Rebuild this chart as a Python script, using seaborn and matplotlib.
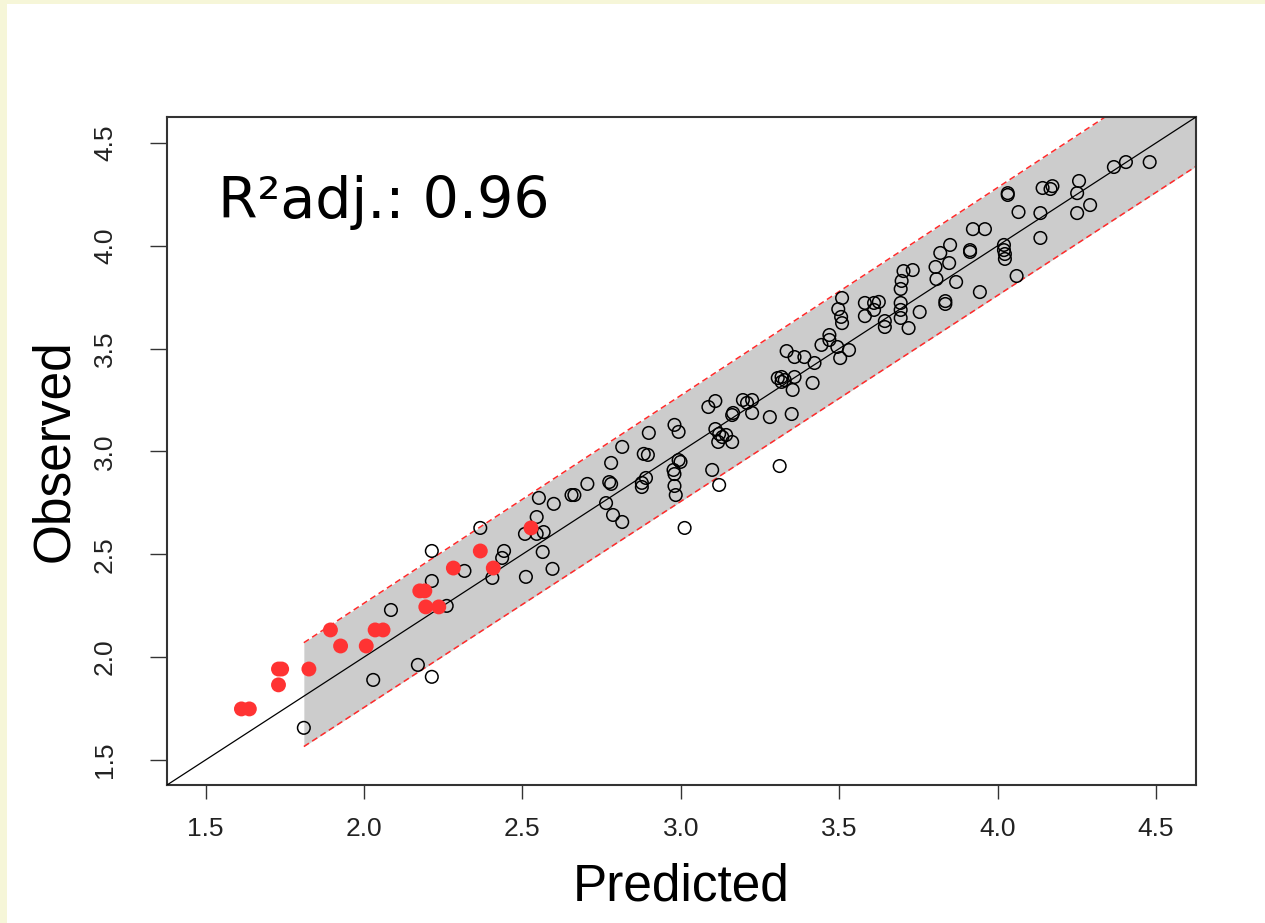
import matplotlib
matplotlib.use("Agg")
import matplotlib.pyplot as plt
import seaborn as sns
import pandas as pd
from matplotlib.patches import Rectangle

# observed vs predicted, open circles
open_pred = [1.810, 2.029, 2.170, 2.214, 2.214, 2.085, 2.214, 2.261, 2.317, 2.367,
             2.405, 2.442, 2.436, 2.511, 2.508, 2.545, 2.567, 2.564, 2.595, 2.545,
             2.552, 2.599, 2.655, 2.664, 2.705, 2.764, 2.774, 2.780, 2.786, 2.815,
             2.780, 2.815, 2.877, 2.877, 2.890, 2.883, 2.896, 2.899, 2.980, 2.993,
             2.977, 2.980, 2.980, 2.984, 2.993, 2.999, 3.012, 3.099, 3.121, 3.087,
             3.109, 3.109, 3.121, 3.131, 3.143, 3.118, 3.162, 3.165, 3.162, 3.196,
             3.209, 3.225, 3.225, 3.312, 3.281, 3.350, 3.306, 3.318, 3.328, 3.359,
             3.353, 3.318, 3.416, 3.334, 3.359, 3.390, 3.422, 3.444, 3.469, 3.469,
             3.494, 3.531, 3.503, 3.509, 3.497, 3.506, 3.509, 3.581, 3.610, 3.625,
             3.610, 3.581, 3.644, 3.644, 3.694, 3.694, 3.694, 3.719, 3.754, 3.694,
             3.697, 3.703, 3.732, 3.804, 3.807, 3.847, 3.819, 3.850, 3.869, 3.835,
             3.835, 3.913, 3.913, 3.922, 3.960, 3.944, 4.020, 4.020, 4.023, 4.023,
             4.060, 4.032, 4.032, 4.066, 4.135, 4.135, 4.142, 4.167, 4.173, 4.251,
             4.251, 4.257, 4.292, 4.367, 4.405, 4.480]
open_obs = [1.656, 1.889, 1.962, 1.904, 2.516, 2.229, 2.370, 2.249, 2.419, 2.628,
            2.385, 2.516, 2.482, 2.390, 2.599, 2.681, 2.608, 2.511, 2.429, 2.599,
            2.774, 2.745, 2.788, 2.788, 2.842, 2.749, 2.851, 2.842, 2.691, 2.657,
            2.944, 3.022, 2.827, 2.847, 2.871, 2.988, 2.983, 3.090, 3.129, 3.095,
            2.910, 2.890, 2.832, 2.788, 2.958, 2.949, 2.628, 2.910, 2.837, 3.216,
            3.245, 3.109, 3.085, 3.070, 3.080, 3.046, 3.046, 3.187, 3.177, 3.250,
            3.236, 3.187, 3.250, 2.929, 3.167, 3.182, 3.357, 3.362, 3.347, 3.362,
            3.299, 3.338, 3.333, 3.488, 3.459, 3.459, 3.430, 3.518, 3.566, 3.542,
            3.508, 3.493, 3.454, 3.746, 3.692, 3.654, 3.624, 3.722, 3.722, 3.727,
            3.688, 3.658, 3.634, 3.605, 3.722, 3.688, 3.649, 3.600, 3.678, 3.790,
            3.829, 3.877, 3.882, 3.897, 3.838, 3.916, 3.965, 4.004, 3.824, 3.731,
            3.717, 3.979, 3.970, 4.081, 4.081, 3.775, 4.004, 3.979, 3.960, 3.936,
            3.853, 4.247, 4.256, 4.164, 4.159, 4.038, 4.281, 4.276, 4.290, 4.159,
            4.256, 4.315, 4.198, 4.383, 4.407, 4.407]

# filled red points
red_pred = [1.613, 1.638, 1.730, 1.740, 1.730, 1.826, 1.894, 1.926, 2.007, 2.035,
            2.060, 2.176, 2.192, 2.195, 2.236, 2.282, 2.367, 2.408, 2.527]
red_obs = [1.748, 1.748, 1.942, 1.942, 1.865, 1.942, 2.132, 2.054, 2.054, 2.132,
           2.132, 2.322, 2.322, 2.244, 2.244, 2.433, 2.516, 2.433, 2.628]

# prediction band
band_x = [1.81, 4.65]
band_lo = [1.565, 4.41]
band_hi = [2.07, 4.94]

tick_vals = [1.5, 2.0, 2.5, 3.0, 3.5, 4.0, 4.5]
lims = (1.378, 4.626)

sns.set_theme(style="white")
plt.rcParams['font.family'] = ['Liberation Sans Narrow', 'Liberation Sans', 'DejaVu Sans']

fig = plt.figure(figsize=(12.65, 9.23), dpi=100)
fig.patch.set_facecolor('#f6f6d8')
fig.patches.append(Rectangle((7 / 1265, 0), 1, 1 - 4 / 923, transform=fig.transFigure,
                             facecolor='white', edgecolor='none', zorder=-10))
ax = fig.add_axes([0.132, 0.1495, 0.8134, 0.7237])
ax.set_facecolor('white')

ax.fill_between(band_x, band_lo, band_hi, color='#cccccc', lw=0, zorder=1)
band = pd.DataFrame({'x': band_x, 'lo': band_lo, 'hi': band_hi})
sns.lineplot(data=band, x='x', y='lo', ax=ax, color='#ff2a2a', lw=1.1,
             linestyle=(0, (4, 2.5)), zorder=2)
sns.lineplot(data=band, x='x', y='hi', ax=ax, color='#ff2a2a', lw=1.1,
             linestyle=(0, (4, 2.5)), zorder=2)
ax.axline((0, 0), slope=1, color='black', lw=0.9, zorder=3)

pts = pd.DataFrame({'pred': open_pred, 'obs': open_obs})
sns.scatterplot(data=pts, x='pred', y='obs', ax=ax, s=82, facecolors='none',
                edgecolors='black', linewidth=1.1, zorder=4)
red = pd.DataFrame({'pred': red_pred, 'obs': red_obs})
sns.scatterplot(data=red, x='pred', y='obs', ax=ax, s=115, color='#ff3333',
                edgecolor='none', zorder=5)

ax.set_xlim(lims)
ax.set_ylim(lims)
ax.set_xticks(tick_vals)
ax.set_yticks(tick_vals)
ax.set_xticklabels([f'{v:.1f}' for v in tick_vals])
ax.set_yticklabels([f'{v:.1f}' for v in tick_vals], rotation=90, va='center')
ax.tick_params(axis='x', direction='out', length=10, width=1, color='#333333',
               labelsize=19, pad=13, labelcolor='#222222', bottom=True)
ax.tick_params(axis='y', direction='out', length=12, width=1, color='#333333',
               labelsize=19, pad=24, labelcolor='#222222', left=True)
for sp in ax.spines.values():
    sp.set_color('#333333')
    sp.set_linewidth(1.5)
    sp.set_visible(True)

ax.set_xlabel('Predicted', fontsize=37, color='black', va='center',
              family=['Liberation Sans', 'DejaVu Sans'])
ax.set_ylabel('Observed', fontsize=37, color='black', va='center',
              family=['Liberation Sans', 'DejaVu Sans'])
ax.xaxis.set_label_coords(0.5, -0.153)
ax.yaxis.set_label_coords(-0.109, 0.5)

ax.text(0.05, 0.849, 'R²adj.: 0.96', transform=ax.transAxes, fontsize=41,
        family=['DejaVu Sans'], va='baseline', ha='left', color='black')

fig.savefig('out.png', dpi=100, facecolor=fig.get_facecolor())
